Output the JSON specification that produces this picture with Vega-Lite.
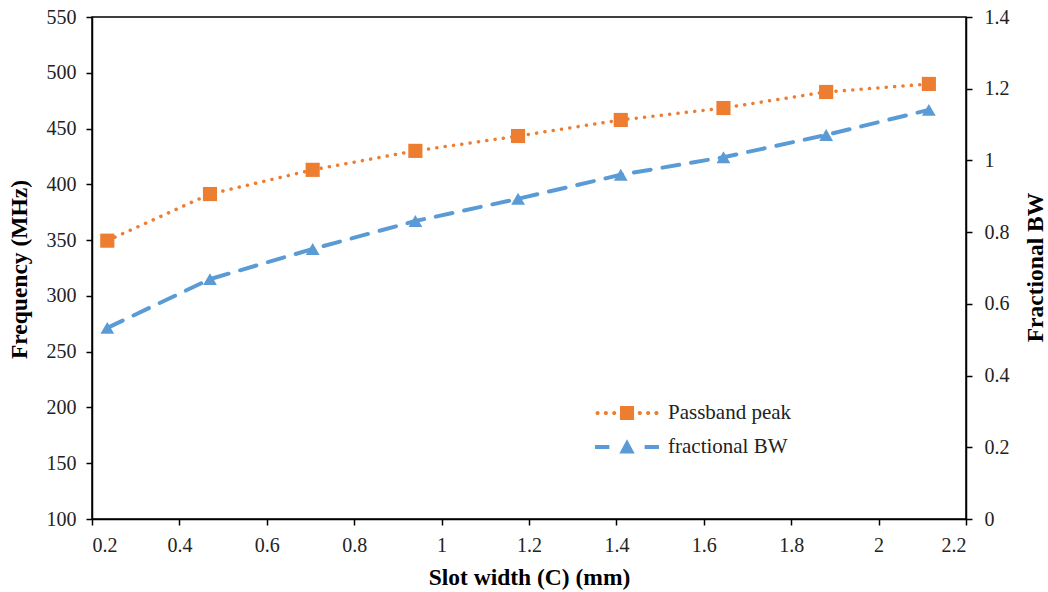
{
  "$schema": "https://vega.github.io/schema/vega-lite/v6.json",
  "width": 874,
  "height": 502,
  "autosize": {"type": "none"},
  "padding": {"left": 92, "top": 17, "right": 82, "bottom": 73},
  "background": "white",
  "config": {
    "view": {"stroke": "black", "strokeWidth": 1.5},
    "font": "Liberation Serif",
    "axis": {
      "grid": false,
      "domainColor": "black",
      "domainWidth": 1.5,
      "tickColor": "black",
      "tickWidth": 1.5,
      "tickSize": 6,
      "labelFont": "Liberation Serif",
      "labelFontSize": 20,
      "labelColor": "#222222",
      "titleFont": "Liberation Serif",
      "titleFontSize": 23.5,
      "titleFontWeight": "bold",
      "titleColor": "black"
    },
    "legend": {
      "labelFont": "Liberation Serif",
      "labelFontSize": 21,
      "labelColor": "#222222"
    }
  },
  "datasets": {
    "main": [
      {"x": 0.235, "freq": 349.5, "bw": 0.533},
      {"x": 0.47, "freq": 391.3, "bw": 0.669},
      {"x": 0.705, "freq": 413.0, "bw": 0.753},
      {"x": 0.94, "freq": 430.0, "bw": 0.831},
      {"x": 1.175, "freq": 443.3, "bw": 0.893},
      {"x": 1.41, "freq": 457.7, "bw": 0.96},
      {"x": 1.645, "freq": 468.4, "bw": 1.009},
      {"x": 1.88, "freq": 482.8, "bw": 1.071},
      {"x": 2.115, "freq": 490.0, "bw": 1.141}
    ],
    "legendrows": [
      {"series": "Passband peak"},
      {"series": "fractional BW"}
    ]
  },
  "layer": [
    {
      "data": {"name": "main"},
      "encoding": {
        "x": {
          "field": "x", "type": "quantitative",
          "scale": {"domain": [0.2, 2.2], "nice": false},
          "axis": {
            "values": [0.2, 0.4, 0.6, 0.8, 1, 1.2, 1.4, 1.6, 1.8, 2, 2.2],
            "format": "~g",
            "labelPadding": 10,
            "title": "Slot width (C) (mm)",
            "titlePadding": 10
          }
        },
        "y": {
          "field": "freq", "type": "quantitative",
          "scale": {"domain": [100, 550], "nice": false, "zero": false},
          "axis": {
            "orient": "left",
            "values": [100, 150, 200, 250, 300, 350, 400, 450, 500, 550],
            "labelPadding": 10,
            "title": "Frequency (MHz)",
            "titleAngle": -90,
            "titleBaseline": "middle",
            "titleX": -73,
            "titleY": 252,
            "titleAnchor": "middle"
          }
        }
      },
      "layer": [
        {
          "mark": {"type": "line", "color": "#ED7D31", "strokeWidth": 3.5, "strokeDash": [0.1, 8.3], "strokeCap": "round"}
        },
        {
          "mark": {"type": "point", "shape": "square", "filled": true, "opacity": 1, "color": "#ED7D31", "size": 200}
        }
      ]
    },
    {
      "data": {"name": "main"},
      "encoding": {
        "x": {"field": "x", "type": "quantitative", "scale": {"domain": [0.2, 2.2], "nice": false}},
        "y": {
          "field": "bw", "type": "quantitative",
          "scale": {"domain": [0, 1.4], "nice": false},
          "axis": {
            "orient": "right",
            "values": [0, 0.2, 0.4, 0.6, 0.8, 1, 1.2, 1.4],
            "format": "~g",
            "labelPadding": 12,
            "title": "Fractional BW",
            "titleAngle": -90,
            "titleBaseline": "middle",
            "titleX": 69,
            "titleY": 250,
            "titleAnchor": "middle"
          }
        }
      },
      "layer": [
        {
          "mark": {"type": "line", "color": "#5B9BD5", "strokeWidth": 4, "strokeDash": [17, 12], "strokeCap": "round"}
        },
        {
          "mark": {"type": "point", "shape": "triangle-up", "filled": true, "opacity": 1, "color": "#5B9BD5", "size": 190}
        }
      ]
    },
    {
      "data": {"name": "legendrows"},
      "mark": {"type": "point", "filled": true, "opacity": 0},
      "encoding": {
        "color": {
          "field": "series", "type": "nominal",
          "scale": {"domain": ["Passband peak", "fractional BW"], "range": ["#ED7D31", "#5B9BD5"]},
          "legend": {
            "title": null,
            "orient": "none",
            "legendX": 519,
            "legendY": 380,
            "padding": 0,
            "symbolSize": 1024,
            "symbolOpacity": 1,
            "symbolStrokeWidth": 0,
            "labelOffset": 25,
            "rowPadding": 8,
            "encode": {"symbols": {"update": {"opacity": {"value": 1}, "strokeWidth": {"value": 0}}}}
          }
        },
        "shape": {
          "field": "series", "type": "nominal",
          "scale": {
            "domain": ["Passband peak", "fractional BW"],
            "range": [
              "M-0.44,-0.44H0.44V0.44H-0.44Z M-1.97,0a0.13,0.13 0 1,0 0.26,0a0.13,0.13 0 1,0 -0.26,0Z M-1.45,0a0.13,0.13 0 1,0 0.26,0a0.13,0.13 0 1,0 -0.26,0Z M-0.93,0a0.13,0.13 0 1,0 0.26,0a0.13,0.13 0 1,0 -0.26,0Z M0.67,0a0.13,0.13 0 1,0 0.26,0a0.13,0.13 0 1,0 -0.26,0Z M1.19,0a0.13,0.13 0 1,0 0.26,0a0.13,0.13 0 1,0 -0.26,0Z M1.71,0a0.13,0.13 0 1,0 0.26,0a0.13,0.13 0 1,0 -0.26,0Z",
              "M0,-0.48L0.48,0.4L-0.48,0.4Z M-2,-0.13H-1.1V0.13H-2Z M1.1,-0.13H2V0.13H1.1Z"
            ]
          },
          "legend": {
            "title": null,
            "orient": "none",
            "legendX": 519,
            "legendY": 380,
            "padding": 0,
            "symbolSize": 1024,
            "symbolOpacity": 1,
            "labelOffset": 25,
            "rowPadding": 8
          }
        }
      }
    }
  ],
  "resolve": {"scale": {"y": "independent"}}
}
